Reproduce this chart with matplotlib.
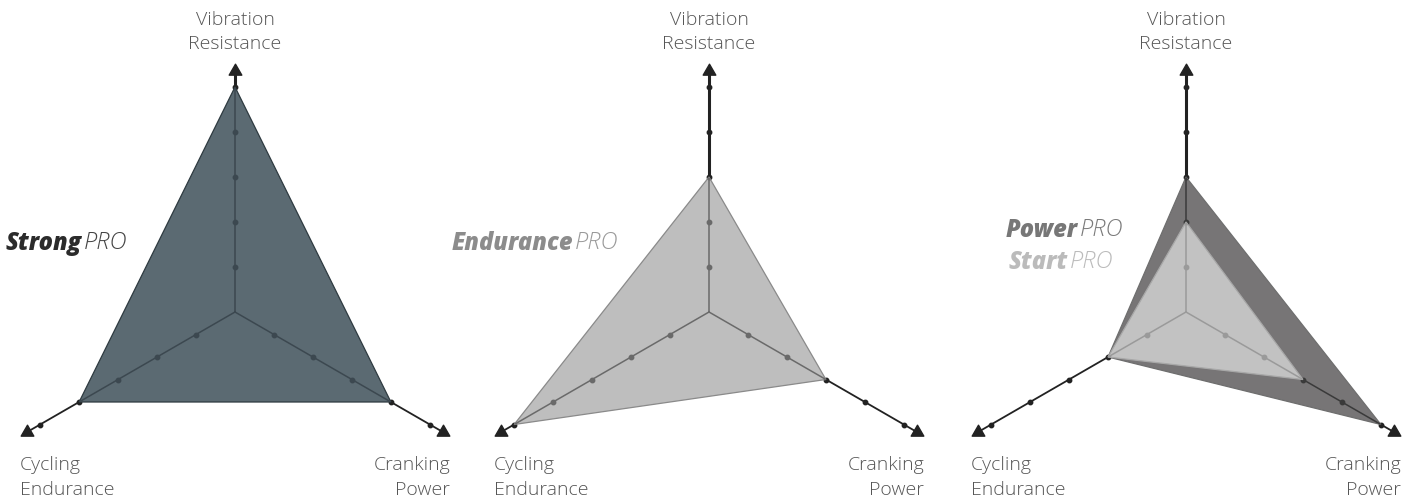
import numpy as np
import matplotlib
matplotlib.use("Agg")
import matplotlib.pyplot as plt
from matplotlib.patches import Polygon
from matplotlib.path import Path

# chart data
axis_labels = ["Vibration\nResistance", "Cycling\nEndurance", "Cranking\nPower"]
axis_angles = [90, 210, 330]
tick_values = [1, 2, 3, 4, 5]
axis_end = 5.35

strong_pro = [5, 4, 4]
endurance_pro = [3, 5, 3]
power_pro = [3, 2, 5]
start_pro = [2, 2, 3]

# panel -> list of (values, fill, edge, inner line colour)
panels = [
    [(strong_pro, "#5b6a72", "#2e3a40", "#3c4850")],
    [(endurance_pro, "#bebebe", "#8a8a8a", "#6a6a6a")],
    [(power_pro, "#777576", "#6e6e6e", "#3a3a3a"),
     (start_pro, "#c2c2c2", "#a8a8a8", "#9a9a9a")],
]

# series name labels: (bold part, light part, colour bold, colour light, x, y)
names = [
    [("Strong", "PRO", "#2b2b2b", "#444444", -3.4, 1.53)],
    [("Endurance", "PRO", "#8c8c8c", "#9a9a9a", -3.02, 1.53)],
    [("Power", "PRO", "#777777", "#7a7a7a", -2.4, 1.82),
     ("Start", "PRO", "#bbbbbb", "#bbbbbb", -2.62, 1.11)],
]

W, H = 1411, 497
unit = 45.0
centers_px = [235, 709, 1186]
cy_px = 312

fig = plt.figure(figsize=(W / 100, H / 100), dpi=100)
fig.patch.set_facecolor("white")

ang = np.deg2rad(axis_angles)
dx, dy = np.cos(ang), np.sin(ang)

# equilateral triangle marker for arrowheads
tri = Path([(0, 1), (-0.866, -0.5), (0.866, -0.5), (0, 1)], closed=True)

fam = ["Open Sans", "DejaVu Sans"]
label_font = dict(family=fam, fontweight="light", color="#555555", fontsize=14)
widths = [2.2, 1.3, 1.3]

for p, cx in enumerate(centers_px):
    ax = fig.add_axes([(cx - 235) / W, 0, 470 / W, 1])
    ax.set_xlim(-235 / unit, 235 / unit)
    ax.set_ylim(-(H - cy_px) / unit, cy_px / unit)
    ax.axis("off")

    # base axes
    for k in range(3):
        ax.plot([0, axis_end * dx[k]], [0, axis_end * dy[k]], color="#222222", lw=widths[k],
                solid_capstyle="butt", zorder=1)
        tv = np.array(tick_values)
        ax.plot(tv * dx[k], tv * dy[k], "o", color="#222222", ms=3.2, zorder=1)
        ax.plot([axis_end * dx[k]], [axis_end * dy[k]], marker=tri, color="#222222",
                ms=10.5, zorder=1)

    # series
    for z, (vals, fill, edge, inner) in enumerate(panels[p]):
        v = np.array(vals, dtype=float)
        pts = np.column_stack([v * dx, v * dy])
        poly = Polygon(pts, closed=True, facecolor=fill, edgecolor=edge, lw=0.9,
                       zorder=2 + 2 * z)
        ax.add_patch(poly)
        for k in range(3):
            ln, = ax.plot([0, axis_end * dx[k]], [0, axis_end * dy[k]], color=inner,
                          lw=1.1, zorder=3 + 2 * z)
            ln.set_clip_path(poly)
            tv = np.array(tick_values)
            dots, = ax.plot(tv * dx[k], tv * dy[k], "o", color=inner, ms=3.2,
                            zorder=3 + 2 * z)
            dots.set_clip_path(poly)

    # axis labels
    ax.text(0, 6.22, axis_labels[0], ha="center", va="center", linespacing=1.45, **label_font)
    ax.text(-4.78, -3.68, axis_labels[1], ha="left", va="center", linespacing=1.45,
            multialignment="left", **label_font)
    ax.text(4.78, -3.68, axis_labels[2], ha="right", va="center", linespacing=1.45,
            multialignment="right", **label_font)

    # series names
    for bold, light, cb, cl, x, y in names[p]:
        ax.text(x, y, bold, ha="right", va="center", fontsize=17, fontstyle="italic",
                fontweight="heavy", color=cb, family=fam, zorder=10)
        ax.text(x + 0.04, y, light, ha="left", va="center", fontsize=17, fontstyle="italic",
                fontweight="light", color=cl, family=fam, zorder=10)

fig.savefig("out.png", dpi=100, facecolor="white")
